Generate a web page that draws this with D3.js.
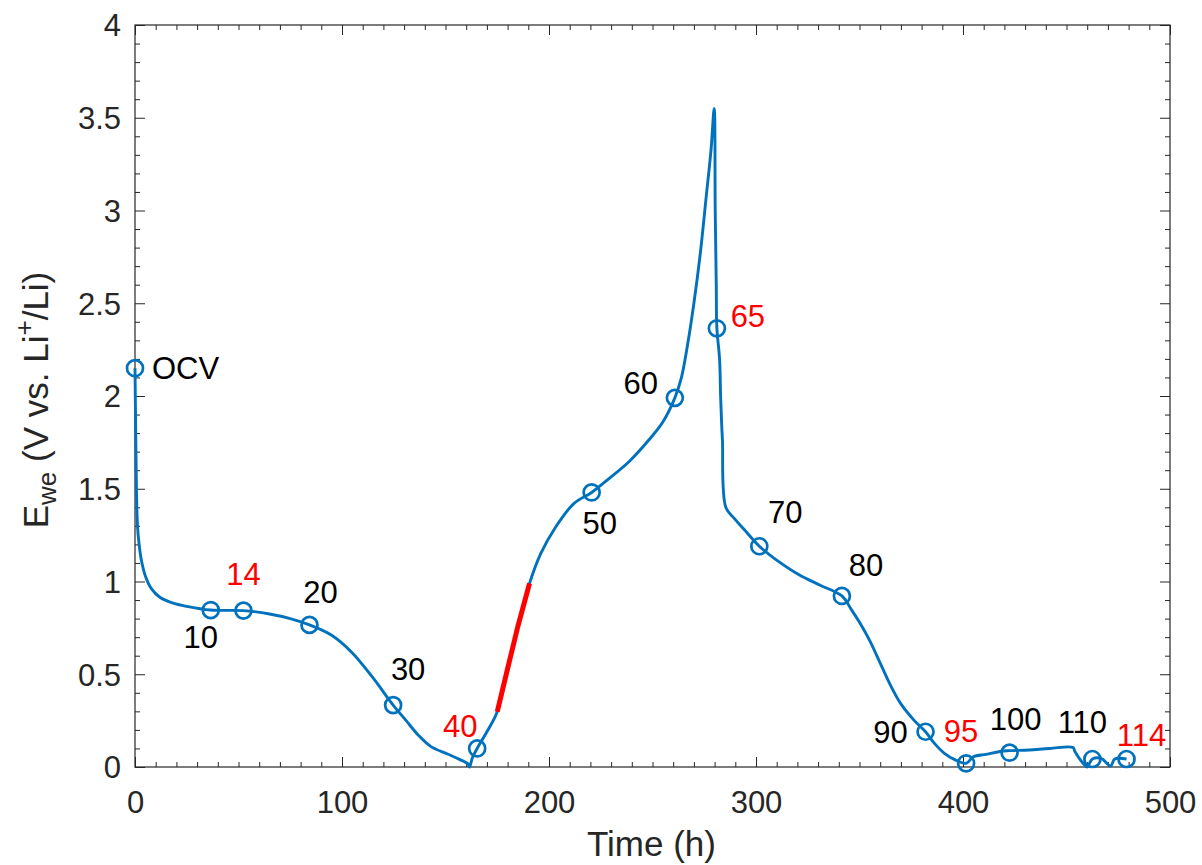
<!DOCTYPE html>
<html>
<head>
<meta charset="utf-8">
<script src="https://cdn.jsdelivr.net/npm/d3@7"></script>
<style>
  html, body { margin: 0; padding: 0; background: #fff; }
  svg { display: block; font-family: "Liberation Sans", Arial, Helvetica, sans-serif; }
</style>
</head>
<body>
<svg id="chart" width="1202" height="865"></svg>
<script>
// ---- data ----
const curveTime = [0, 0.3, 0.7, 1.2, 2, 3, 5, 8, 12, 18, 25, 36.6, 52.4, 65, 75, 84.3, 95, 105, 115, 124.7, 131, 137, 143, 151, 157, 161, 161.6, 163, 165.3, 170, 175, 180, 185, 190.6, 196, 203, 212, 220.6, 229, 239, 248, 255, 260.8, 264, 267, 270, 273, 276, 278.3, 279.8, 280.3, 280.8, 281.1, 282.4, 282.9, 283.4, 283.8, 285.4, 289.5, 294.3, 301.6, 308.8, 321, 331, 341.5, 346, 350, 355, 360, 365, 370, 376.5, 381.9, 386, 391, 396, 401.5, 405, 411.2, 418.5, 422.5, 432, 442, 453.2, 454, 458.8, 460, 462.5, 466.9, 469.5, 471.4, 473.3, 479];
const curveVolt = [2.15, 1.85, 1.5, 1.3, 1.2, 1.12, 1.03, 0.96, 0.915, 0.885, 0.866, 0.846, 0.843, 0.825, 0.8, 0.766, 0.71, 0.615, 0.48, 0.334, 0.25, 0.17, 0.11, 0.07, 0.04, 0.015, 0.0, 0.05, 0.10, 0.19, 0.298, 0.53, 0.76, 0.99, 1.15, 1.29, 1.42, 1.48, 1.555, 1.65, 1.76, 1.86, 1.99, 2.1, 2.28, 2.5, 2.76, 3.08, 3.33, 3.55, 3.0, 2.6, 2.365, 2.2, 2.0, 1.85, 1.76, 1.40, 1.34, 1.28, 1.19, 1.125, 1.035, 0.98, 0.922, 0.85, 0.78, 0.68, 0.56, 0.44, 0.34, 0.25, 0.19, 0.13, 0.074, 0.04, 0.02, 0.055, 0.068, 0.085, 0.088, 0.092, 0.1, 0.105, 0.085, 0.01, 0.0, 0.043, 0.045, 0.02, 0.005, 0.043, 0.043];

const redTime = [175, 180, 185, 190.6];
const redVolt = [0.298, 0.53, 0.76, 0.99];

const markerTime = [0, 36.6, 52.4, 84.3, 124.7, 165.3, 220.6, 260.8, 281.1, 301.6, 341.5, 381.9, 401.5, 422.5, 462.5, 479];
const markerVolt = [2.15, 0.846, 0.843, 0.766, 0.334, 0.10, 1.48, 1.99, 2.365, 1.19, 0.922, 0.19, 0.02, 0.077, 0.043, 0.043];
const markerLabels = ["OCV", "10", "14", "20", "30", "40", "50", "60", "65", "70", "80", "90", "95", "100", "110", "114"];
const labelIsRed = [false, false, true, false, false, true, false, false, true, false, false, false, true, false, false, true];

const xTicks = [0, 100, 200, 300, 400, 500];
const yTicks = [0, 0.5, 1, 1.5, 2, 2.5, 3, 3.5, 4];
const yTickLabels = ["0", "0.5", "1", "1.5", "2", "2.5", "3", "3.5", "4"];

// ---- layout (label offsets in px from marker centre) ----
const labelDx = [17, -10, 0, 11, 15, -17, 8, -34, 31, 26, 24, -35, -5, 6, -10, 15];
const labelDy = [0, 27, -37, -33, -36, -23, 30, -15, -12, -34, -31, 0, -32, -34, -37, -24];

const W = 1202, H = 865;
const m = { left: 135, right: 1170, top: 25, bottom: 767 };
const svg = d3.select("#chart");

const x = d3.scaleLinear().domain([0, 500]).range([m.left, m.right]);
const y = d3.scaleLinear().domain([0, 4]).range([m.bottom, m.top]);

const axisColor = "#262626";
const blue = "#0072BD";
const tickFont = 31;

// minor ticks
const xMinor = d3.range(0, 501, 10).filter(v => v % 100 !== 0);
const yMinor = d3.range(0, 41, 1).map(v => v / 10).filter(v => Math.abs(v * 2 - Math.round(v * 2)) > 1e-9);

const g = svg.append("g");

function addAxis(axisGen, transform) {
  const a = g.append("g").attr("transform", transform).call(axisGen);
  a.select(".domain").remove();
  a.selectAll("line").attr("stroke", axisColor).attr("stroke-width", 1);
  return a;
}
const majLen = 10, minLen = 5;
const xb = addAxis(d3.axisBottom(x).tickValues(xTicks).tickSize(-majLen).tickPadding(24).tickFormat(d3.format("d")), `translate(0,${m.bottom})`);
addAxis(d3.axisBottom(x).tickValues(xMinor).tickSize(-minLen).tickFormat(""), `translate(0,${m.bottom})`);
addAxis(d3.axisTop(x).tickValues(xTicks).tickSize(-majLen).tickFormat(""), `translate(0,${m.top})`);
addAxis(d3.axisTop(x).tickValues(xMinor).tickSize(-minLen).tickFormat(""), `translate(0,${m.top})`);
const yl = addAxis(d3.axisLeft(y).tickValues(yTicks).tickSize(-majLen).tickPadding(14).tickFormat((d, i) => yTickLabels[i]), `translate(${m.left},0)`);
addAxis(d3.axisLeft(y).tickValues(yMinor).tickSize(-minLen).tickFormat(""), `translate(${m.left},0)`);
addAxis(d3.axisRight(y).tickValues(yTicks).tickSize(-majLen).tickFormat(""), `translate(${m.right},0)`);
addAxis(d3.axisRight(y).tickValues(yMinor).tickSize(-minLen).tickFormat(""), `translate(${m.right},0)`);

xb.selectAll("text").attr("fill", axisColor).attr("font-size", tickFont).attr("font-family", "Liberation Sans, Arial, sans-serif").attr("dy", "0.71em");
yl.selectAll("text").attr("fill", axisColor).attr("font-size", tickFont).attr("font-family", "Liberation Sans, Arial, sans-serif").attr("dy", "0.35em");

// box
g.append("rect").attr("x", m.left).attr("y", m.top)
  .attr("width", m.right - m.left).attr("height", m.bottom - m.top)
  .attr("fill", "none").attr("stroke", axisColor).attr("stroke-width", 1.2);

// curve
const curveData = curveTime.map((t, i) => [t, curveVolt[i]]);
const line = d3.line().x(d => x(d[0])).y(d => y(d[1])).curve(d3.curveCatmullRom.alpha(0.5));
g.append("path").datum(curveData).attr("d", line)
  .attr("fill", "none").attr("stroke", blue).attr("stroke-width", 2.9)
  .attr("stroke-linejoin", "round");

// red segment
const redData = redTime.map((t, i) => [t, redVolt[i]]);
g.append("path").datum(redData).attr("d", d3.line().x(d => x(d[0])).y(d => y(d[1])))
  .attr("fill", "none").attr("stroke", "#FF0000").attr("stroke-width", 5);

// markers
const markers = markerTime.map((t, i) => ({ t, v: markerVolt[i], label: markerLabels[i], red: labelIsRed[i], dx: labelDx[i], dy: labelDy[i] }));
g.selectAll("circle.mk").data(markers).join("circle")
  .attr("class", "mk")
  .attr("cx", d => x(d.t)).attr("cy", d => y(d.v)).attr("r", 8)
  .attr("fill", "none").attr("stroke", blue).attr("stroke-width", 2.7);

// labels
g.selectAll("text.lbl").data(markers).join("text")
  .attr("class", "lbl")
  .attr("x", d => x(d.t) + d.dx)
  .attr("y", d => y(d.v) + d.dy)
  .attr("dy", "0.36em")
  .attr("text-anchor", (d, i) => i === 0 ? "start" : "middle")
  .attr("font-size", 31)
  .attr("fill", d => d.red ? "#FF0000" : "#000000")
  .text(d => d.label);

// axis labels
svg.append("text")
  .attr("x", (m.left + m.right) / 2 - 1).attr("y", 856)
  .attr("text-anchor", "middle").attr("font-size", 35).attr("fill", axisColor)
  .text("Time (h)");

const yLab = svg.append("text")
  .attr("transform", `translate(48, ${(m.top + m.bottom) / 2 + 4}) rotate(-90)`)
  .attr("text-anchor", "middle").attr("font-size", 35).attr("fill", axisColor);
yLab.append("tspan").text("E");
yLab.append("tspan").attr("font-size", 26).attr("dy", 8).text("we");
yLab.append("tspan").attr("dy", -8).text(" (V vs. Li");
yLab.append("tspan").attr("font-size", 26).attr("dy", -15).text("+");
yLab.append("tspan").attr("dy", 15).text("/Li)");
</script>
</body>
</html>
